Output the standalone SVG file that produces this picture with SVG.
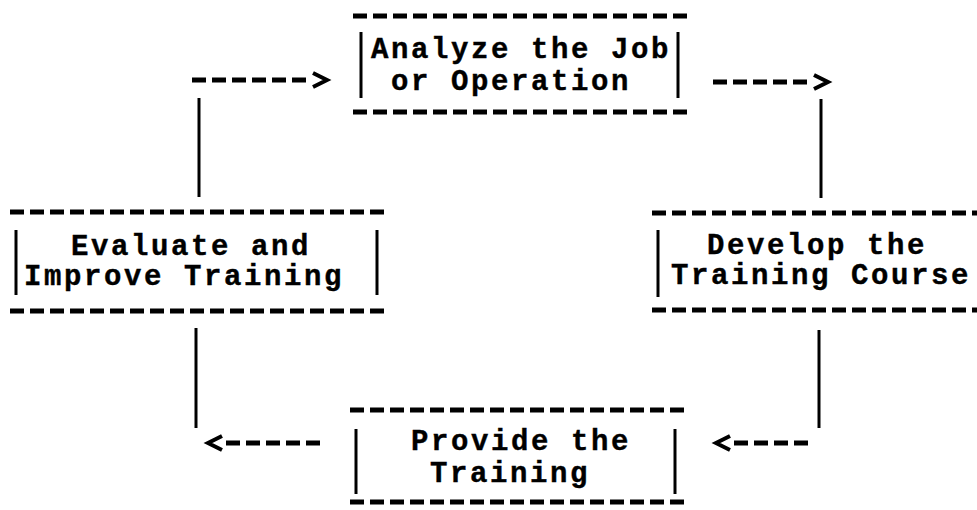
<svg xmlns="http://www.w3.org/2000/svg" width="977" height="510" viewBox="0 0 977 510">
<style>
  .bg { fill: #ffffff; }
  .dash { stroke: #000; stroke-width: 5; stroke-dasharray: 14 6; fill: none; }
  .bar { stroke: #000; stroke-width: 3; fill: none; }
  .vline { stroke: #000; stroke-width: 3; fill: none; }
  .head { stroke: #000; stroke-width: 4; fill: none; stroke-linejoin: miter; stroke-linecap: butt; }
  .lbl { font-family: "Liberation Mono", "DejaVu Sans Mono", monospace; font-weight: bold; font-size: 29px; letter-spacing: 2.6px; fill: #000; stroke: #000; stroke-width: 0.4px; }
</style>
<rect class="bg" x="0" y="0" width="977" height="510"/>

<g id="node-analyze">
  <line class="dash" x1="353" y1="16" x2="690" y2="16"/>
  <line class="bar" x1="361" y1="32" x2="361" y2="98"/>
  <line class="bar" x1="678" y1="32" x2="678" y2="98"/>
  <text class="lbl" x="371" y="58">Analyze the Job</text>
  <text class="lbl" x="391" y="90">or Operation</text>
  <line class="dash" x1="353" y1="112" x2="690" y2="112"/>
</g>

<g id="node-evaluate">
  <line class="dash" x1="10" y1="212" x2="388" y2="212"/>
  <line class="bar" x1="16" y1="230" x2="16" y2="295"/>
  <line class="bar" x1="377" y1="230" x2="377" y2="295"/>
  <text class="lbl" x="71" y="255">Evaluate and</text>
  <text class="lbl" x="24" y="285">Improve Training</text>
  <line class="dash" x1="10" y1="311" x2="388" y2="311"/>
</g>

<g id="node-develop">
  <line class="dash" x1="652" y1="213" x2="977" y2="213"/>
  <line class="bar" x1="658" y1="230" x2="658" y2="297"/>
  <text class="lbl" x="707" y="254">Develop the</text>
  <text class="lbl" x="671" y="284">Training Course</text>
  <line class="dash" x1="652" y1="310" x2="977" y2="310"/>
</g>

<g id="node-provide">
  <line class="dash" x1="350" y1="410" x2="688" y2="410"/>
  <line class="bar" x1="356" y1="429" x2="356" y2="494"/>
  <line class="bar" x1="675" y1="429" x2="675" y2="494"/>
  <text class="lbl" x="411" y="450">Provide the</text>
  <text class="lbl" x="430" y="482">Training</text>
  <line class="dash" x1="350" y1="502" x2="688" y2="502"/>
</g>

<g id="connectors">
  <!-- Evaluate -> Analyze -->
  <line class="vline" x1="199" y1="98" x2="199" y2="197"/>
  <line class="dash" x1="192" y1="80" x2="310" y2="80"/>
  <polyline class="head" points="313,73 327,80 313,87"/>
  <!-- Analyze -> Develop -->
  <line class="dash" x1="713" y1="82" x2="811" y2="82"/>
  <polyline class="head" points="814,75 828,82 814,89"/>
  <line class="vline" x1="821" y1="99" x2="821" y2="198"/>
  <!-- Develop -> Provide -->
  <line class="vline" x1="819" y1="330" x2="819" y2="428"/>
  <line class="dash" x1="734" y1="443" x2="812" y2="443"/>
  <polyline class="head" points="730,436 716,443 730,450"/>
  <!-- Provide -> Evaluate -->
  <line class="dash" x1="226" y1="443" x2="324" y2="443"/>
  <polyline class="head" points="222,436 208,443 222,450"/>
  <line class="vline" x1="196" y1="328" x2="196" y2="428"/>
</g>
</svg>
